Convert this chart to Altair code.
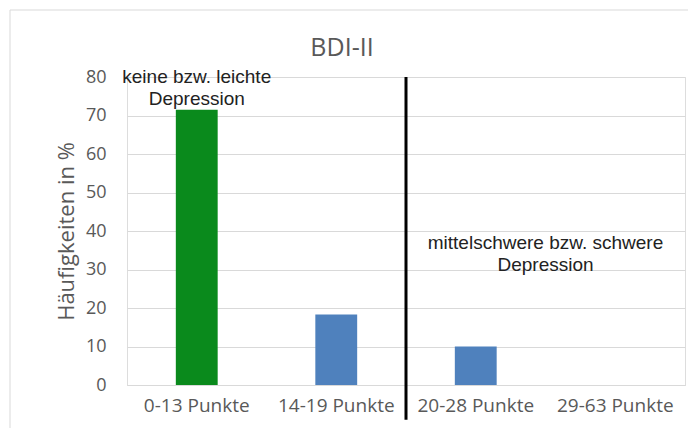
import altair as alt
import pandas as pd

categories = ["0-13 Punkte", "14-19 Punkte", "20-28 Punkte", "29-63 Punkte"]
values = [71.5, 18.3, 10.0, 0.0]
bar_colors = ["#0a8a1c", "#4f81bd", "#4f81bd", "#4f81bd"]

divider_category = ["20-28 Punkte"]
divider_y = [80]
divider_y2 = [-9]

note_categories = ["0-13 Punkte", "29-63 Punkte"]
note_y = [80, 37]
note_texts = [["keine bzw. leichte", "Depression"], ["mittelschwere bzw. schwere", "Depression"]]
note_band = [0.5, 0.0]

y_ticks = [0, 10, 20, 30, 40, 50, 60, 70, 80]

df = pd.DataFrame({"cat": categories, "val": values, "col": bar_colors})
div_df = pd.DataFrame({"cat": divider_category, "y": divider_y, "y2": divider_y2})
note1 = pd.DataFrame({"cat": [note_categories[0]], "y": [note_y[0]], "t": [note_texts[0]]})
note2 = pd.DataFrame({"cat": [note_categories[1]], "y": [note_y[1]], "t": [note_texts[1]]})

GRAY = "#595959"
FONT = "Open Sans"
xscale = alt.Scale(domain=categories, paddingInner=0, paddingOuter=0)
yscale = alt.Scale(domain=[0, 80], nice=False)

xaxis = alt.Axis(title=None, labelAngle=0, ticks=False, domain=True,
                 domainColor="#d9d9d9", labelColor=GRAY, labelFontSize=19,
                 labelFont=FONT, labelPadding=11, grid=False)
yaxis = alt.Axis(title="Häufigkeiten in %", values=y_ticks, tickCount=20,
                 labelOverlap=False, ticks=False, domain=False, grid=True,
                 gridColor="#d9d9d9", labelColor=GRAY, labelFontSize=18, labelFont=FONT,
                 labelPadding=21, titleColor=GRAY, titleFontSize=22,
                 titleFont=FONT, titleFontWeight="normal", titlePadding=7)

frame = alt.Chart(pd.DataFrame({"a": [0]})).mark_rect(
    fill=None, stroke="#d9d9d9", strokeWidth=1
).encode(x=alt.value(-117), x2=alt.value(565), y=alt.value(-67), y2=alt.value(360))

bars = alt.Chart(df).mark_bar(width=alt.RelativeBandSize(0.3)).encode(
    x=alt.X("cat:N", sort=categories, scale=xscale, axis=xaxis),
    y=alt.Y("val:Q", scale=yscale, axis=yaxis),
    color=alt.Color("col:N", scale=None),
)

divider = alt.Chart(div_df).mark_rule(color="black", strokeWidth=3).encode(
    x=alt.X("cat:N", bandPosition=0, scale=xscale, axis=xaxis),
    y=alt.Y("y:Q", scale=yscale, axis=yaxis),
    y2="y2:Q",
)

t1 = alt.Chart(note1).mark_text(
    font="Liberation Sans", fontSize=19, color="#222222", baseline="middle",
    align="center", lineHeight=22
).encode(x=alt.X("cat:N", bandPosition=note_band[0], scale=xscale, axis=xaxis),
         y=alt.Y("y:Q", scale=yscale, axis=yaxis), text="t")

t2 = alt.Chart(note2).mark_text(
    font="Liberation Sans", fontSize=19, color="#222222", baseline="middle",
    align="center", lineHeight=22
).encode(x=alt.X("cat:N", bandPosition=note_band[1], scale=xscale, axis=xaxis),
         y=alt.Y("y:Q", scale=yscale, axis=yaxis), text="t")

chart = alt.layer(frame, bars, divider, t1, t2).properties(
    width=558, height=308,
    title=alt.TitleParams("BDI-II", fontSize=25, color=GRAY, font=FONT,
                          fontWeight="normal", anchor="middle", dx=-64, offset=-51),
    autosize=alt.AutoSizeParams(type="none"),
    padding={"left": 127, "top": 77, "right": 3, "bottom": 43},
).configure_view(stroke=None).configure(background="white")

chart.save("out.html", embed_options={"renderer": "svg", "actions": False})
